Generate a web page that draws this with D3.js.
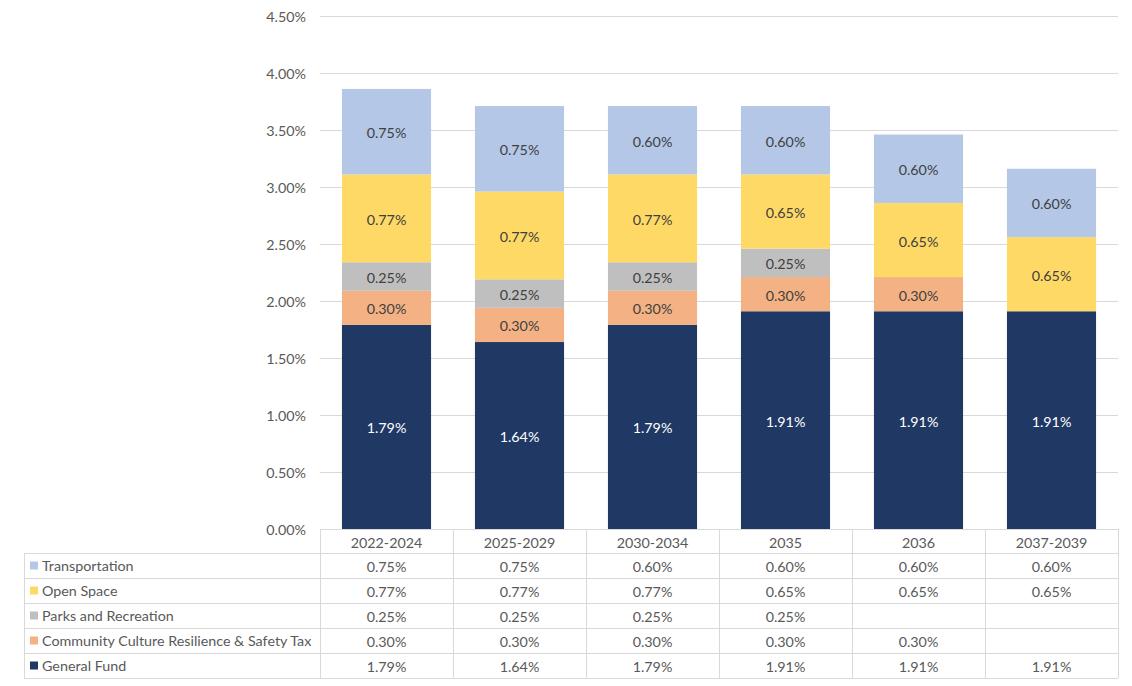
<!DOCTYPE html>
<html>
<head>
<meta charset="utf-8">
<script src="https://cdn.jsdelivr.net/npm/d3@7"></script>
<style>
  body { margin: 0; background: #fff; }
  svg { display: block; font-family: Lato, "Open Sans", sans-serif; }
</style>
</head>
<body>
<svg id="chart" width="1132" height="686"></svg>
<script>
// periods along the x axis
const periods = ["2022-2024", "2025-2029", "2030-2034", "2035", "2036", "2037-2039"]

// series values (percent), null = not levied in that period
const generalFund    = [1.79, 1.64, 1.79, 1.91, 1.91, 1.91]
const communityTax   = [0.30, 0.30, 0.30, 0.30, 0.30, null]
const parksRec       = [0.25, 0.25, 0.25, 0.25, null, null]
const openSpace      = [0.77, 0.77, 0.77, 0.65, 0.65, 0.65]
const transportation = [0.75, 0.75, 0.60, 0.60, 0.60, 0.60]

const yTicks = [0, 0.5, 1, 1.5, 2, 2.5, 3, 3.5, 4, 4.5]

// stacking order, bottom to top
const series = [
  {key: "gf",    name: "General Fund", values: generalFund, color: "#203864", text: "#ffffff"},
  {key: "ccrst", name: "Community Culture Resilience & Safety Tax", values: communityTax, color: "#F4B183", text: "#404040"},
  {key: "parks", name: "Parks and Recreation", values: parksRec, color: "#BFBFBF", text: "#404040"},
  {key: "open",  name: "Open Space", values: openSpace, color: "#FFD966", text: "#404040"},
  {key: "trans", name: "Transportation", values: transportation, color: "#B4C7E7", text: "#404040"}
]

const rows = periods.map((p, i) => {
  const r = {period: p}
  series.forEach(s => { r[s.key] = s.values[i] || 0 })
  return r
})

const svg = d3.select("#chart")
const plotLeft = 320, plotRight = 1118, plotTop = 16, zeroY = 529
const tableLeft = 24, headerH = 24, rowH = 25
const gridColor = "#D9D9D9", textColor = "#595959"
const fontSize = "14.3px"

const x = d3.scaleBand().domain(periods).range([plotLeft, plotRight]).paddingInner(0.33).paddingOuter(0.165)
const xCol = d3.scaleBand().domain(periods).range([plotLeft, plotRight])
const y = d3.scaleLinear().domain([0, 4.5]).range([zeroY, plotTop])

// gridlines
svg.append("g").selectAll("line")
  .data(yTicks)
  .join("line")
    .attr("x1", plotLeft).attr("x2", plotRight)
    .attr("y1", d => Math.round(y(d)) + 0.5).attr("y2", d => Math.round(y(d)) + 0.5)
    .attr("stroke", gridColor)

// y axis labels
svg.append("g").selectAll("text")
  .data(yTicks)
  .join("text")
    .attr("x", 306)
    .attr("y", d => y(d) + 1)
    .attr("dy", "0.35em")
    .attr("text-anchor", "end")
    .attr("fill", textColor)
    .style("font-size", fontSize)
    .text(d => d3.format(".2f")(d) + "%")

// stacked bars
const stacked = d3.stack().keys(series.map(s => s.key))(rows)
stacked.forEach((layer, li) => {
  const s = series[li]
  const g = svg.append("g")
  const segs = layer.filter(d => d[1] - d[0] > 0)
  g.selectAll("rect")
    .data(segs)
    .join("rect")
      .attr("x", d => x(d.data.period))
      .attr("width", x.bandwidth())
      .attr("y", d => y(d[1]))
      .attr("height", d => y(d[0]) - y(d[1]))
      .attr("fill", s.color)
  g.selectAll("text")
    .data(segs)
    .join("text")
      .attr("x", d => x(d.data.period) + x.bandwidth() / 2)
      .attr("y", d => (y(d[0]) + y(d[1])) / 2 + 1.5)
      .attr("dy", "0.35em")
      .attr("text-anchor", "middle")
      .attr("fill", s.text)
      .style("font-size", fontSize)
      .text(d => d3.format(".2f")(d[1] - d[0]) + "%")
})

// data table under the chart
const table = svg.append("g")
const tableRows = series.slice().reverse()
const tableTop = zeroY + headerH
const tableBottom = tableTop + tableRows.length * rowH

// horizontal lines
table.append("line")
  .attr("x1", plotLeft).attr("x2", plotRight)
  .attr("y1", zeroY + 0.5).attr("y2", zeroY + 0.5)
  .attr("stroke", gridColor)
table.selectAll(".hline")
  .data(d3.range(tableRows.length + 1))
  .join("line")
    .attr("class", "hline")
    .attr("x1", tableLeft).attr("x2", plotRight)
    .attr("y1", i => tableTop + i * rowH + 0.5).attr("y2", i => tableTop + i * rowH + 0.5)
    .attr("stroke", gridColor)
// vertical lines
table.append("line")
  .attr("x1", tableLeft + 0.5).attr("x2", tableLeft + 0.5)
  .attr("y1", tableTop).attr("y2", tableBottom)
  .attr("stroke", gridColor)
table.selectAll(".vline")
  .data(periods.concat(["end"]))
  .join("line")
    .attr("class", "vline")
    .attr("x1", d => (d == "end" ? plotRight : xCol(d)) + 0.5)
    .attr("x2", d => (d == "end" ? plotRight : xCol(d)) + 0.5)
    .attr("y1", zeroY).attr("y2", tableBottom)
    .attr("stroke", gridColor)

// header labels
table.selectAll(".head")
  .data(periods)
  .join("text")
    .attr("class", "head")
    .attr("x", d => xCol(d) + xCol.bandwidth() / 2)
    .attr("y", zeroY + headerH / 2 + 1.5)
    .attr("dy", "0.35em")
    .attr("text-anchor", "middle")
    .attr("fill", textColor)
    .style("font-size", fontSize)
    .text(d => d)

tableRows.forEach((s, ri) => {
  const cy = tableTop + ri * rowH + rowH / 2
  table.append("rect")
    .attr("x", 30).attr("y", cy - 4)
    .attr("width", 8).attr("height", 8)
    .attr("fill", s.color)
  table.append("text")
    .attr("x", 42).attr("y", cy + 1)
    .attr("dy", "0.3em")
    .attr("fill", textColor)
    .style("font-size", fontSize)
    .text(s.name)
  table.append("g").selectAll("text")
    .data(periods.map((p, i) => ({p: p, v: s.values[i]})).filter(d => d.v != null))
    .join("text")
      .attr("x", d => xCol(d.p) + xCol.bandwidth() / 2)
      .attr("y", cy + 1)
      .attr("dy", "0.35em")
      .attr("text-anchor", "middle")
      .attr("fill", textColor)
      .style("font-size", fontSize)
      .text(d => d3.format(".2f")(d.v) + "%")
})
</script>
</body>
</html>
